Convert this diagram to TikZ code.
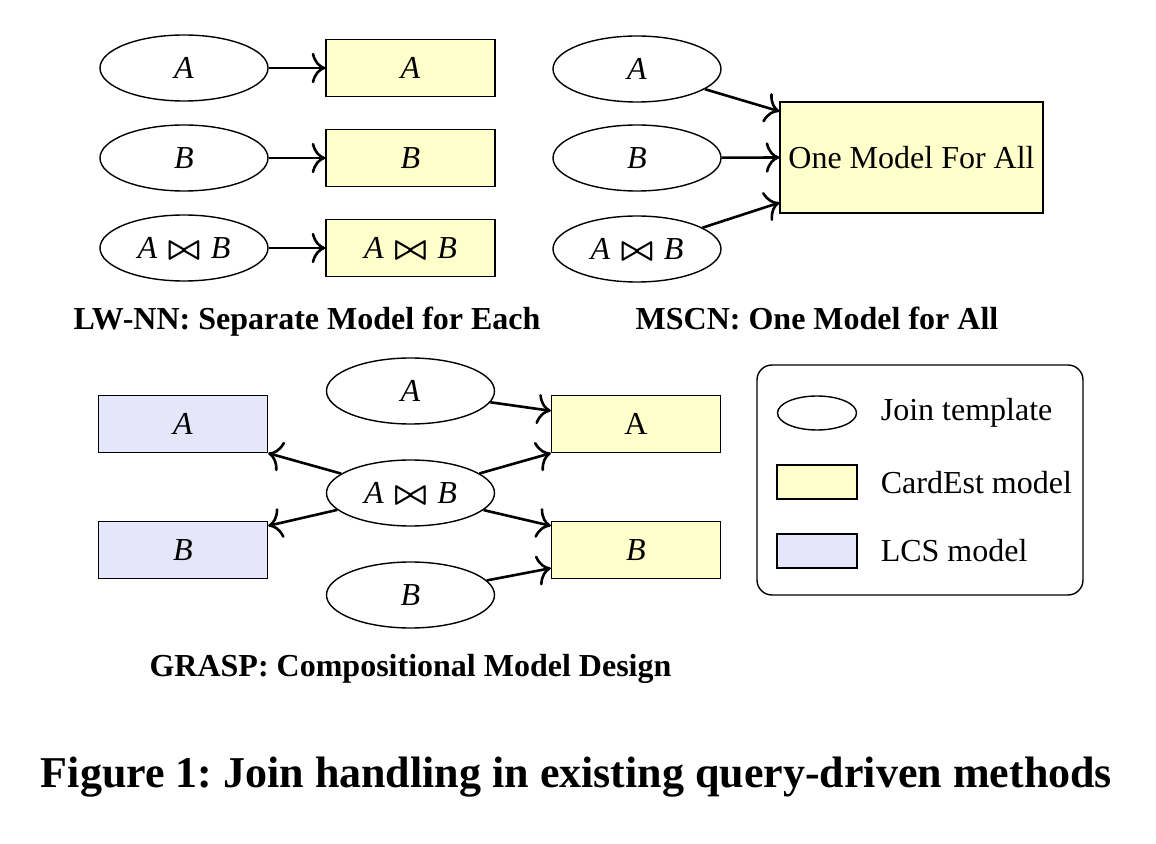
\documentclass[tikz,border=0pt]{standalone}
\usepackage{fontspec}
\setmainfont{Liberation Serif}
\usetikzlibrary{shapes.geometric,arrows.meta,calc}
\definecolor{cardY}{HTML}{FFFFCC}
\definecolor{lcsC}{HTML}{E6E6FA}
\newcommand{\AjB}{\textit{A}\hspace{0.33em}{\boldmath$\bowtie$}\hspace{0.33em}\textit{B}}
\begin{document}
\frenchspacing
\begin{tikzpicture}[x=0.25pt,y=-0.25pt,
  every node/.style={font=\fontsize{8}{9.6}\selectfont},
  jt/.style={ellipse,draw,line width=0.35pt,minimum width=42pt,minimum height=16.5pt,inner sep=0pt,font=\fontsize{8}{9.6}\selectfont},
  ce/.style={rectangle,draw,line width=0.35pt,fill=cardY,minimum width=42.25pt,minimum height=14.25pt,inner sep=0pt,font=\fontsize{8}{9.6}\selectfont},
  lc/.style={ce,fill=lcsC},
  arr/.style={-{Computer Modern Rightarrow[length=3.4pt,width=7.6pt]},line width=0.65pt},
  ttl/.style={font=\fontsize{8}{9.6}\selectfont\bfseries,inner sep=0pt,anchor=base},
  legtxt/.style={anchor=west,inner sep=0pt,font=\fontsize{8}{9.6}\selectfont}]
\useasboundingbox (0,0) rectangle (1156,844);

% ---- LW-NN panel
\node[jt] (a1) at (184,68) {\textit{A}};
\node[jt] (b1) at (184,158) {\textit{B}};
\node[jt] (ab1) at (184,248) {\AjB};
\node[ce] (ra1) at (410.5,68) {\textit{A}};
\node[ce] (rb1) at (410.5,158) {\textit{B}};
\node[ce] (rab1) at (410.5,248) {\AjB};
\draw[arr] (a1) -- (ra1);
\draw[arr] (b1) -- (rb1);
\draw[arr] (ab1) -- (rab1);
\node[ttl] (l1) at (307,330) {LW-NN: Separate Model for Each};

% ---- MSCN panel
\node[jt] (a2) at (637,69) {\textit{A}};
\node[jt] (b2) at (637,158) {\textit{B}};
\node[jt] (ab2) at (637,249) {\AjB};
\node[ce,minimum width=65.75pt,minimum height=27.75pt] (big) at (911.5,157.5) {One Model For All};
\draw[arr] (a2) -- ($(big.north west)+(0,10)$);
\draw[arr] (b2) -- (big.west);
\draw[arr] (ab2) -- ($(big.south west)+(0,-11)$);
\node[ttl] (l2) at (817,330) {MSCN: One Model for All};

% ---- GRASP panel
\node[jt] (a3) at (410.5,391) {\textit{A}};
\node[jt] (ab3) at (410.5,493) {\AjB};
\node[jt] (b3) at (410.5,595) {\textit{B}};
\node[lc] (la) at (183,424) {\textit{A}};
\node[lc] (lb) at (183,550) {\textit{B}};
\node[ce] (ca) at (636,424) {A};
\node[ce] (cb) at (636,550) {\textit{B}};
\draw[arr] (a3) -- ($(ca.north west)+(0,16)$);
\draw[arr] (ab3) -- (ca.south west);
\draw[arr] (ab3) -- ($(cb.north west)+(0,5)$);
\draw[arr] (b3) -- ($(cb.south west)+(0,-11)$);
\draw[arr] (ab3) -- (la.south east);
\draw[arr] (ab3) -- ($(lb.north east)+(0,5)$);
\node[ttl] (l3) at (410.5,676) {GRASP: Compositional Model Design};

% ---- legend
\node[draw,rounded corners=3.75pt,line width=0.35pt,minimum width=81.5pt,minimum height=57.5pt,inner sep=0pt] (leg) at (920,480) {};
\node[ellipse,draw,line width=0.35pt,minimum width=19.75pt,minimum height=8.5pt,inner sep=0pt] (lge) at (817,413) {};
\node[rectangle,draw,line width=0.35pt,fill=cardY,minimum width=20pt,minimum height=8.5pt,inner sep=0pt] (lgy) at (817,482) {};
\node[rectangle,draw,line width=0.35pt,fill=lcsC,minimum width=20pt,minimum height=8.5pt,inner sep=0pt] (lgl) at (817,551) {};
\node[legtxt] (t1) at (880,413) {Join template};
\node[legtxt] (t2) at (880,483) {CardEst model};
\node[legtxt] (t3) at (880,551) {LCS model};

% ---- caption
\node[font=\fontsize{11}{13}\selectfont\bfseries,inner sep=0pt,anchor=base] (cap) at (576.5,787) {Figure 1: Join handling in existing query-driven methods};
\end{tikzpicture}
\end{document}
